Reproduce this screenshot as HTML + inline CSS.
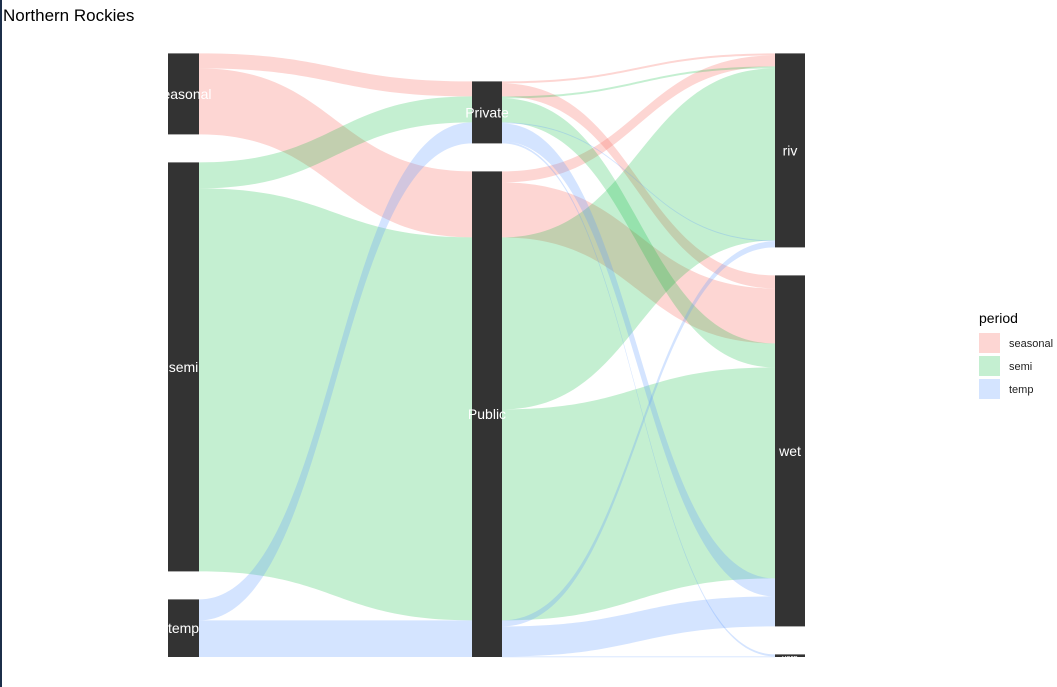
<!DOCTYPE html>
<html><head><meta charset="utf-8">
<style>
body{margin:0;background:#fff;font-family:"Liberation Sans",Arial,sans-serif;}
#wrap{position:relative;width:1057px;height:687px;overflow:hidden;border-left:2px solid #1c2f4a;box-sizing:border-box;}
</style></head>
<body>
<div id="wrap">
<svg id="chart" width="1055" height="687">
<text x="1" y="21" font-size="17" fill="#000">Northern Rockies</text>
<g id="flows"></g>
<g id="strata"></g>
<g id="legend">
<text x="977" y="323" font-size="14" fill="#000">period</text>
</g>
</svg>
</div>
<script>
const periods = ["seasonal","semi","temp"];
const mgmts = ["Private","Public"];
const types = ["riv","wet","vern"];
// lodes: period, mgmt, type, value
const lodePeriod = ["seasonal","seasonal","seasonal","seasonal","semi","semi","semi","semi","temp","temp","temp","temp","temp","temp"];
const lodeMgmt   = ["Private","Private","Public","Public","Private","Private","Public","Public","Private","Private","Private","Public","Public","Public"];
const lodeType   = ["riv","wet","riv","wet","riv","wet","riv","wet","riv","wet","vern","riv","wet","vern"];
const lodeValue  = [2,13,11,55,2,24,172,211,1,18,2,6,30,0.6];
const colors = {seasonal:"#F8766D",semi:"#00BA38",temp:"#619CFF"};
const opac = {seasonal:0.3,semi:0.23,temp:0.27};

const NS="http://www.w3.org/2000/svg";
const k=1, gap=28, bottom=657;
const axisX=[[166,197],[470,500],[773,803]];
const axisKeys=[periods,mgmts,types];
const keyOf=[i=>lodePeriod[i],i=>lodeMgmt[i],i=>lodeType[i]];
const total=lodeValue.reduce((a,b)=>a+b,0);

const nodes=[];
for(let a=0;a<3;a++){
  const keys=axisKeys[a];
  let y=bottom-(total*k+gap*(keys.length-1));
  const m={};
  keys.forEach(key=>{
    let v=0; lodeValue.forEach((val,i)=>{if(keyOf[a](i)===key)v+=val;});
    m[key]={y0:y,h:v*k}; y+=v*k+gap;
  });
  nodes.push(m);
}
const flowsG=document.getElementById('flows');
for(let a=0;a<2;a++){
  const b=a+1;
  const groups={};
  lodeValue.forEach((v,i)=>{
    const key=lodePeriod[i]+"|"+keyOf[a](i)+"|"+keyOf[b](i);
    if(!groups[key])groups[key]={p:lodePeriod[i],ka:keyOf[a](i),kb:keyOf[b](i),v:0};
    groups[key].v+=v;
  });
  const g=Object.values(groups);
  const pi=p=>periods.indexOf(p);
  const offA={},offB={};
  const sideA=[...g].sort((x,y)=>axisKeys[a].indexOf(x.ka)-axisKeys[a].indexOf(y.ka)||pi(x.p)-pi(y.p)||axisKeys[b].indexOf(x.kb)-axisKeys[b].indexOf(y.kb));
  sideA.forEach(f=>{const n=nodes[a][f.ka];offA[f.ka]=offA[f.ka]||n.y0;f.ya=offA[f.ka];offA[f.ka]+=f.v*k;});
  const sideB=[...g].sort((x,y)=>axisKeys[b].indexOf(x.kb)-axisKeys[b].indexOf(y.kb)||pi(x.p)-pi(y.p)||axisKeys[a].indexOf(x.ka)-axisKeys[a].indexOf(y.ka));
  sideB.forEach(f=>{const n=nodes[b][f.kb];offB[f.kb]=offB[f.kb]||n.y0;f.yb=offB[f.kb];offB[f.kb]+=f.v*k;});
  const x0=axisX[a][1],x1=axisX[b][0],xm=(x0+x1)/2;
  g.forEach(f=>{
    const h=Math.max(f.v*k,0.8);
    const d=`M${x0},${f.ya}C${xm},${f.ya} ${xm},${f.yb} ${x1},${f.yb}L${x1},${f.yb+h}C${xm},${f.yb+h} ${xm},${f.ya+h} ${x0},${f.ya+h}Z`;
    const p=document.createElementNS(NS,'path');
    p.setAttribute('d',d);p.setAttribute('fill',colors[f.p]);p.setAttribute('fill-opacity',opac[f.p]);
    
    
    flowsG.appendChild(p);
  });
}
const strataG=document.getElementById('strata');
for(let a=0;a<3;a++){
  axisKeys[a].forEach(key=>{
    const n=nodes[a][key];
    const r=document.createElementNS(NS,'rect');
    r.setAttribute('x',axisX[a][0]);r.setAttribute('y',n.y0);
    r.setAttribute('width',axisX[a][1]-axisX[a][0]);r.setAttribute('height',Math.max(n.h,1));
    r.setAttribute('fill','#333');
    
    
    strataG.appendChild(r);
    const t=document.createElementNS(NS,'text');
    t.setAttribute('x',(axisX[a][0]+axisX[a][1])/2);
    t.setAttribute('y',n.y0+n.h/2+5);
    t.setAttribute('text-anchor','middle');
    t.setAttribute('font-size',n.h<5?'8':'14');
    t.setAttribute('fill','#fff');
    t.textContent=key;
    
    
    strataG.appendChild(t);
  });
}
const lg=document.getElementById('legend');
periods.forEach((p,i)=>{
  const r=document.createElementNS(NS,'rect');
  r.setAttribute('x',977);r.setAttribute('y',333+i*23);r.setAttribute('width',21);r.setAttribute('height',20);
  r.setAttribute('fill',colors[p]);r.setAttribute('fill-opacity',opac[p]);
  
  
  lg.appendChild(r);
  const t=document.createElementNS(NS,'text');
  t.setAttribute('x',1007);t.setAttribute('y',347+i*23);t.setAttribute('font-size','11');t.setAttribute('fill','#222');
  t.textContent=p;
  
  
  lg.appendChild(t);
});
</script>
</body></html>
